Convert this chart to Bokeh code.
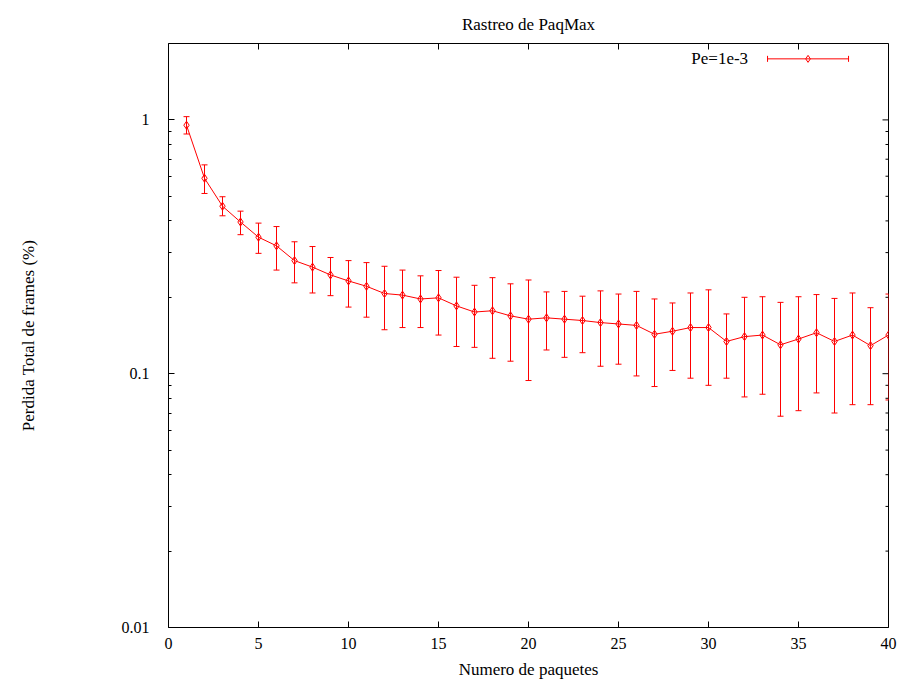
import math
from bokeh.plotting import figure
from bokeh.models import (Range1d, FixedTicker, Whisker, TeeHead, ColumnDataSource, Label)
from bokeh.embed import file_html
from bokeh.resources import INLINE

# ---- data ----
paquetes = list(range(1, 41))
perdida = [0.953, 0.589, 0.457, 0.396, 0.345, 0.319, 0.279, 0.263, 0.245, 0.232,
           0.221, 0.207, 0.204, 0.197, 0.199, 0.185, 0.175, 0.177, 0.169, 0.164,
           0.166, 0.164, 0.162, 0.159, 0.157, 0.155, 0.143, 0.147, 0.152, 0.152,
           0.134, 0.140, 0.142, 0.130, 0.137, 0.145, 0.134, 0.142, 0.129, 0.142]
err_sup = [1.03, 0.665, 0.498, 0.437, 0.392, 0.380, 0.331, 0.317, 0.287, 0.279,
           0.274, 0.265, 0.256, 0.243, 0.255, 0.240, 0.223, 0.239, 0.226, 0.234,
           0.210, 0.211, 0.202, 0.212, 0.206, 0.211, 0.197, 0.190, 0.208, 0.214,
           0.172, 0.200, 0.201, 0.191, 0.201, 0.205, 0.198, 0.208, 0.182, 0.206]
err_inf = [0.88, 0.513, 0.419, 0.353, 0.298, 0.256, 0.228, 0.208, 0.203, 0.183,
           0.167, 0.149, 0.152, 0.152, 0.142, 0.128, 0.127, 0.115, 0.112, 0.094,
           0.124, 0.116, 0.121, 0.107, 0.109, 0.098, 0.089, 0.103, 0.096, 0.090,
           0.096, 0.081, 0.083, 0.068, 0.0715, 0.084, 0.070, 0.0755, 0.0755, 0.0788]
serie = "Pe=1e-3"
x_ticks = [0, 5, 10, 15, 20, 25, 30, 35, 40]
y_ticks = [0.01, 0.1, 1]
y_tick_labels = ["0.01", "0.1", "1"]
y_minor = [m * d for d in (0.01, 0.1) for m in range(2, 10)] + [2]

FONT = "Liberation Serif"
RED = "#ff0000"
X0, X1 = 0, 40
Y0, Y1 = 0.01, 2

src = ColumnDataSource(dict(x=paquetes, y=perdida, hi=err_sup, lo=err_inf))

p = figure(width=911, height=685, output_backend="svg", toolbar_location=None,
           y_axis_type="log", x_range=Range1d(X0, X1), y_range=Range1d(Y0, Y1),
           min_border_left=168, min_border_right=23, min_border_top=43, min_border_bottom=58,
           title="Rastreo de PaqMax")
p.title.align = "center"
p.title.text_font = FONT
p.title.text_font_size = "17px"
p.title.text_font_style = "normal"
p.title.text_color = "black"
p.title.standoff = 20

p.grid.visible = False
p.outline_line_color = "black"
p.outline_line_alpha = 1
p.background_fill_color = "white"
p.border_fill_color = "white"

def style_axis(ax):
    ax.axis_line_color = None
    ax.major_tick_in = 6
    ax.major_tick_out = 0
    ax.minor_tick_in = 3
    ax.minor_tick_out = 0
    ax.major_tick_line_color = "black"
    ax.minor_tick_line_color = "black"
    ax.major_label_text_font = FONT
    ax.major_label_text_font_size = "16px"
    ax.major_label_text_color = "black"
    ax.axis_label_text_font = FONT
    ax.axis_label_text_font_size = "17px"
    ax.axis_label_text_font_style = "normal"
    ax.axis_label_text_color = "black"

xt = FixedTicker(ticks=x_ticks, minor_ticks=[])
yt = FixedTicker(ticks=y_ticks, minor_ticks=y_minor)

xa = p.xaxis[0]
xa.ticker = xt
style_axis(xa)
xa.axis_label = "Numero de paquetes"
xa.major_label_standoff = 10
xa.axis_label_standoff = 8

ya = p.yaxis[0]
ya.ticker = yt
ya.major_label_overrides = {t: l for t, l in zip(y_ticks, y_tick_labels)}
style_axis(ya)
ya.axis_label = "Perdida Total de frames (%)"
ya.major_label_standoff = 19
ya.axis_label_standoff = 81

# mirrored ticks on top and right borders (gnuplot style)
p.ray(x=x_ticks, y=[Y1] * len(x_ticks), length=6, length_units="screen",
      angle=-math.pi / 2, line_color="black", line_width=1)
p.ray(x=[X1] * len(y_ticks), y=y_ticks, length=6, length_units="screen",
      angle=math.pi, line_color="black", line_width=1)
p.ray(x=[X1] * len(y_minor), y=y_minor, length=3, length_units="screen",
      angle=math.pi, line_color="black", line_width=1)

# error bars, line and points
p.add_layout(Whisker(source=src, base="x", upper="hi", lower="lo",
                     line_color=RED, line_width=1,
                     upper_head=TeeHead(size=6, line_color=RED, line_width=1),
                     lower_head=TeeHead(size=6, line_color=RED, line_width=1)))
p.line("x", "y", source=src, line_color=RED, line_width=1)
p.scatter("x", "y", source=src, marker="diamond", size=8, line_color=RED,
          fill_color=None, line_width=1)

# legend (gnuplot style, top right)
ly = 1.74
lx0, lx1 = 33.28, 37.78
leg = ColumnDataSource(dict(y=[ly], lo=[lx0], hi=[lx1], xm=[(lx0 + lx1) / 2]))
p.add_layout(Whisker(source=leg, base="y", lower="lo", upper="hi", dimension="width",
                     line_color=RED, line_width=1,
                     upper_head=TeeHead(size=6, line_color=RED, line_width=1),
                     lower_head=TeeHead(size=6, line_color=RED, line_width=1)))
p.scatter("xm", "y", source=leg, marker="diamond", size=7, line_color=RED,
          fill_color=None, line_width=1)
p.add_layout(Label(x=32.2, y=ly, text=serie, text_align="right", text_baseline="middle",
                   text_font=FONT, text_font_size="17px", text_color="black"))

open("out.html", "w").write(file_html(p, INLINE))
